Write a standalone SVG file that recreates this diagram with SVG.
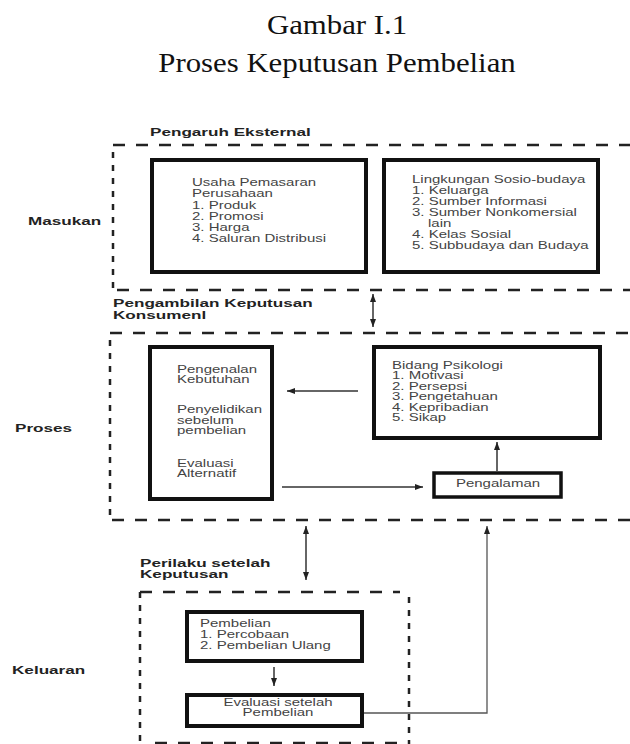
<svg xmlns="http://www.w3.org/2000/svg" width="630" height="744" viewBox="0 0 630 744">
<style>
.t{font-family:"Liberation Sans",Arial,sans-serif;font-size:10px;fill:#444}
.b{font-family:"Liberation Sans",Arial,sans-serif;font-size:11.5px;font-weight:bold;fill:#222}
.ttl{font-family:"Liberation Serif","Times New Roman",serif;font-size:28px;fill:#111}
.box{fill:#fff;stroke:#111;stroke-width:4}
.dh{fill:none;stroke:#222;stroke-width:2.5;stroke-dasharray:12 11}
.dv{fill:none;stroke:#222;stroke-width:2.5;stroke-dasharray:6 7}
.c{fill:none;stroke:#333;stroke-width:1.5}
.c2{fill:none;stroke:#555;stroke-width:1.3}
</style>
<defs>
<marker id="ah" viewBox="0 0 8 6" refX="8" refY="3" markerWidth="8" markerHeight="6" markerUnits="userSpaceOnUse" orient="auto-start-reverse">
<path d="M0,0 L8,3 L0,6 z" fill="#222"/>
</marker>
</defs>
<rect width="630" height="744" fill="#fff"/>

<g id="title">
<text class="ttl" text-anchor="middle" transform="translate(337,34) scale(1.1,1)">Gambar I.1</text>
<text class="ttl" text-anchor="middle" transform="translate(337,72) scale(1.1,1)">Proses Keputusan Pembelian</text>
</g>

<g id="masukan-frame">
<line class="dh" x1="113" y1="145" x2="630" y2="145"/>
<line class="dv" x1="113" y1="152" x2="113" y2="290"/>
<line class="dh" x1="113" y1="290" x2="630" y2="290" stroke-dashoffset="-4"/>
<text class="b" transform="translate(150,136) scale(1.49,1)">Pengaruh Eksternal</text>
<text class="b" transform="translate(28,225) scale(1.49,1)">Masukan</text>
</g>

<g id="proses-frame">
<line class="dh" x1="110" y1="333" x2="630" y2="333"/>
<line class="dv" x1="110" y1="340" x2="110" y2="516"/>
<line class="dh" x1="112" y1="520" x2="630" y2="520"/>
<text class="b" transform="translate(113,307) scale(1.49,1)"><tspan x="0" y="0">Pengambilan Keputusan</tspan><tspan x="0" y="12">Konsumenl</tspan></text>
<text class="b" transform="translate(15,432) scale(1.49,1)">Proses</text>
</g>

<g id="keluaran-frame">
<line class="dh" x1="140" y1="592" x2="400" y2="592"/>
<line class="dv" x1="140" y1="592" x2="140" y2="744"/>
<line class="dv" x1="409" y1="597" x2="409" y2="744"/>
<line class="dh" x1="155" y1="743" x2="400" y2="743"/>
<text class="b" transform="translate(140,566.5) scale(1.49,1)"><tspan x="0" y="0">Perilaku setelah</tspan><tspan x="0" y="11.8">Keputusan</tspan></text>
<text class="b" transform="translate(12,674) scale(1.49,1)">Keluaran</text>
</g>

<g id="usaha-pemasaran">
<rect class="box" x="152" y="160" width="214" height="112"/>
<text class="t" transform="translate(192,186) scale(1.5,1)"><tspan x="0" y="0">Usaha Pemasaran</tspan><tspan x="0" y="11.3">Perusahaan</tspan><tspan x="0" y="22.6">1. Produk</tspan><tspan x="0" y="33.9">2. Promosi</tspan><tspan x="0" y="45.2">3. Harga</tspan><tspan x="0" y="56.5">4. Saluran Distribusi</tspan></text>
</g>

<g id="lingkungan-sosio-budaya">
<rect class="box" x="384" y="160" width="214" height="112"/>
<text class="t" transform="translate(412,183) scale(1.5,1)"><tspan x="0" y="0">Lingkungan Sosio-budaya</tspan><tspan x="0" y="11">1. Keluarga</tspan><tspan x="0" y="22">2. Sumber Informasi</tspan><tspan x="0" y="33">3. Sumber Nonkomersial</tspan><tspan x="10.7" y="44">lain</tspan><tspan x="0" y="55">4. Kelas Sosial</tspan><tspan x="0" y="66">5. Subbudaya dan Budaya</tspan></text>
</g>

<g id="proses-keputusan">
<rect class="box" x="150" y="347" width="122" height="152"/>
<text class="t" transform="translate(177,373) scale(1.5,1)"><tspan x="0" y="0">Pengenalan</tspan><tspan x="0" y="10.5">Kebutuhan</tspan><tspan x="0" y="40">Penyelidikan</tspan><tspan x="0" y="50.7">sebelum</tspan><tspan x="0" y="61.4">pembelian</tspan><tspan x="0" y="94">Evaluasi</tspan><tspan x="0" y="104.5">Alternatif</tspan></text>
</g>

<g id="bidang-psikologi">
<rect class="box" x="374" y="347" width="226" height="91"/>
<text class="t" transform="translate(392,369) scale(1.5,1)"><tspan x="0" y="0">Bidang Psikologi</tspan><tspan x="0" y="10.5">1. Motivasi</tspan><tspan x="0" y="21">2. Persepsi</tspan><tspan x="0" y="31.5">3. Pengetahuan</tspan><tspan x="0" y="42">4. Kepribadian</tspan><tspan x="0" y="52.5">5. Sikap</tspan></text>
</g>

<g id="pengalaman">
<rect class="box" x="434" y="473" width="127" height="24" style="stroke-width:3.5"/>
<text class="t" text-anchor="middle" transform="translate(498,487) scale(1.5,1)">Pengalaman</text>
</g>

<g id="pembelian">
<rect class="box" x="187" y="612" width="175" height="49"/>
<text class="t" transform="translate(200,627) scale(1.5,1)"><tspan x="0" y="0">Pembelian</tspan><tspan x="0" y="11">1. Percobaan</tspan><tspan x="0" y="22">2. Pembelian Ulang</tspan></text>
</g>

<g id="evaluasi-setelah-pembelian">
<rect class="box" x="187" y="695" width="175" height="31"/>
<text class="t" text-anchor="middle" transform="translate(278,706) scale(1.5,1)"><tspan x="0" y="0">Evaluasi setelah</tspan><tspan x="0" y="10.5">Pembelian</tspan></text>
</g>

<g id="connectors">
<line class="c" x1="373" y1="294" x2="373" y2="327" marker-start="url(#ah)" marker-end="url(#ah)"/>
<line class="c" x1="358" y1="391" x2="287" y2="391" marker-end="url(#ah)"/>
<line class="c" x1="282" y1="487" x2="423" y2="487" marker-end="url(#ah)"/>
<line class="c" x1="497" y1="471" x2="497" y2="442" marker-end="url(#ah)"/>
<line class="c" x1="306" y1="526" x2="306" y2="580" marker-start="url(#ah)" marker-end="url(#ah)"/>
<line class="c" x1="274" y1="667" x2="274" y2="686" marker-end="url(#ah)"/>
<polyline class="c2" points="364,713 487,713 487,526" marker-end="url(#ah)"/>
</g>
</svg>
